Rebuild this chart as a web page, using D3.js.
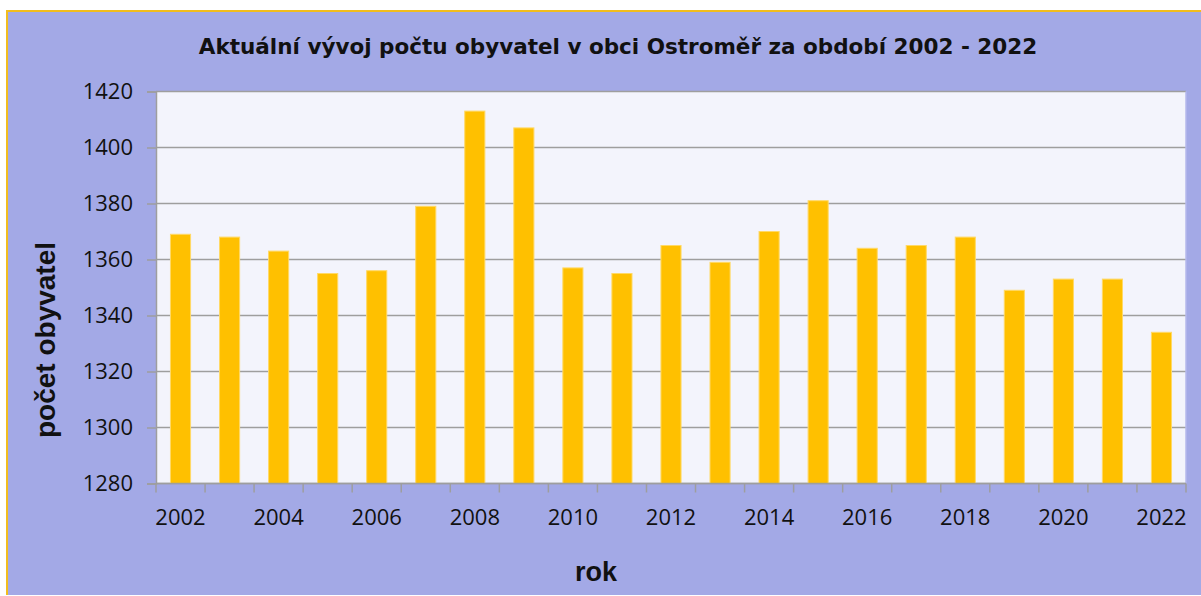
<!DOCTYPE html>
<html>
<head>
<meta charset="utf-8">
<script src="https://cdn.jsdelivr.net/npm/d3@7"></script>
<style>
  html, body { margin: 0; padding: 0; background: #fff; }
  #chart { width: 1201px; height: 596px; }
</style>
</head>
<body>
<div id="chart"></div>
<script>
// data
const years = ['2002','2003','2004','2005','2006','2007','2008','2009','2010','2011','2012',
  '2013','2014','2015','2016','2017','2018','2019','2020','2021','2022'];
const population = [1369,1368,1363,1355,1356,1379,1413,1407,1357,1355,1365,
  1359,1370,1381,1364,1365,1368,1349,1353,1353,1334];
const yTicks = [1280,1300,1320,1340,1360,1380,1400,1420];
const xLabels = ['2002','2004','2006','2008','2010','2012','2014','2016','2018','2020','2022'];

const titleText = 'Aktuální vývoj počtu obyvatel v obci Ostroměř za období 2002 - 2022';
const yTitle = 'počet obyvatel';
const xTitle = 'rok';

renderChart(document.getElementById('chart'));

function renderChart(dom){
  const w = 1201, h = 596;
  const svg = d3.select(dom).append('svg')
    .attr('width', w)
    .attr('height', h);

  // outer chart frame
  svg.append('rect')
    .attr('x', 7).attr('y', 11)
    .attr('width', w - 7).attr('height', h - 12)
    .attr('fill', '#a3a9e6');
  svg.append('path')
    .attr('d', `M7,${h-1} V11 H${w}`)
    .attr('fill', 'none')
    .attr('stroke', '#f2bd1d')
    .attr('stroke-width', 2);

  // plot area
  const m = {left: 156, top: 91.5, right: 1186, bottom: 483.5};

  const x = d3.scaleBand()
    .domain(years)
    .range([m.left, m.right])
    .paddingInner(0.59)
    .paddingOuter(0.295);

  const y = d3.scaleLinear()
    .domain([1280, 1420])
    .range([m.bottom, m.top]);

  svg.append('rect')
    .attr('x', m.left).attr('y', m.top)
    .attr('width', m.right - m.left).attr('height', m.bottom - m.top)
    .attr('fill', '#f3f4fc');

  // gridlines
  svg.append('g')
    .selectAll('line')
    .data(yTicks)
    .join('line')
    .attr('x1', m.left).attr('x2', m.right)
    .attr('y1', d => y(d)).attr('y2', d => y(d))
    .attr('stroke', '#9e9e9e')
    .attr('stroke-width', 1.5);

  // bars
  svg.append('g')
    .selectAll('rect')
    .data(years)
    .join('rect')
    .attr('x', d => x(d))
    .attr('y', (d, i) => y(population[i]))
    .attr('width', x.bandwidth())
    .attr('height', (d, i) => y(1280) - y(population[i]))
    .attr('fill', '#ffc000')
    .attr('stroke', '#ffd966')
    .attr('stroke-width', 1);

  // right edge of plot area
  svg.append('line')
    .attr('x1', m.right).attr('x2', m.right)
    .attr('y1', m.top).attr('y2', m.bottom)
    .attr('stroke', '#b4b8ec').attr('stroke-width', 1.5);

  // y axis
  const yAxis = d3.axisLeft(y)
    .tickValues(yTicks)
    .tickSize(9)
    .tickPadding(14)
    .tickFormat(d3.format('d'));

  const gy = svg.append('g')
    .attr('transform', `translate(${m.left},0)`)
    .call(yAxis);
  gy.select('.domain').attr('stroke', '#9e9e9e').attr('stroke-width', 1.5);
  gy.selectAll('.tick line').attr('stroke', '#9e9e9e').attr('stroke-width', 1.5);
  gy.selectAll('.tick text')
    .attr('font-family', '"Open Sans", sans-serif')
    .attr('font-size', 22)
    .attr('fill', '#111');

  // x axis: ticks between categories, labels every other year
  const step = x.step();
  const boundaries = d3.range(years.length + 1).map(i => m.left + i * step);

  const gx = svg.append('g');
  gx.append('line')
    .attr('x1', m.left).attr('x2', m.right)
    .attr('y1', m.bottom).attr('y2', m.bottom)
    .attr('stroke', '#9e9e9e').attr('stroke-width', 1.5);
  gx.selectAll('.xtick')
    .data(boundaries)
    .join('line')
    .attr('class', 'xtick')
    .attr('x1', d => d).attr('x2', d => d)
    .attr('y1', m.bottom).attr('y2', m.bottom + 9)
    .attr('stroke', '#9e9e9e').attr('stroke-width', 1.5);
  gx.selectAll('.xlabel')
    .data(xLabels)
    .join('text')
    .attr('class', 'xlabel')
    .attr('x', d => x(d) + x.bandwidth() / 2)
    .attr('y', 525)
    .attr('text-anchor', 'middle')
    .attr('font-family', '"Open Sans", sans-serif')
    .attr('font-size', 22)
    .attr('fill', '#111')
    .text(d => d);

  // titles
  svg.append('text')
    .attr('x', 618).attr('y', 54)
    .attr('text-anchor', 'middle')
    .attr('font-family', '"DejaVu Sans", sans-serif')
    .attr('font-weight', 'bold')
    .attr('font-size', 21.5)
    .attr('fill', '#111')
    .text(titleText);

  svg.append('text')
    .attr('transform', 'translate(55,340) rotate(-90)')
    .attr('text-anchor', 'middle')
    .attr('font-family', '"Liberation Sans", Arial, sans-serif')
    .attr('font-weight', 'bold')
    .attr('font-size', 28)
    .attr('fill', '#111')
    .text(yTitle);

  svg.append('text')
    .attr('x', 596).attr('y', 581)
    .attr('text-anchor', 'middle')
    .attr('font-family', '"Liberation Sans", Arial, sans-serif')
    .attr('font-weight', 'bold')
    .attr('font-size', 27)
    .attr('fill', '#111')
    .text(xTitle);
}
</script>
</body>
</html>
